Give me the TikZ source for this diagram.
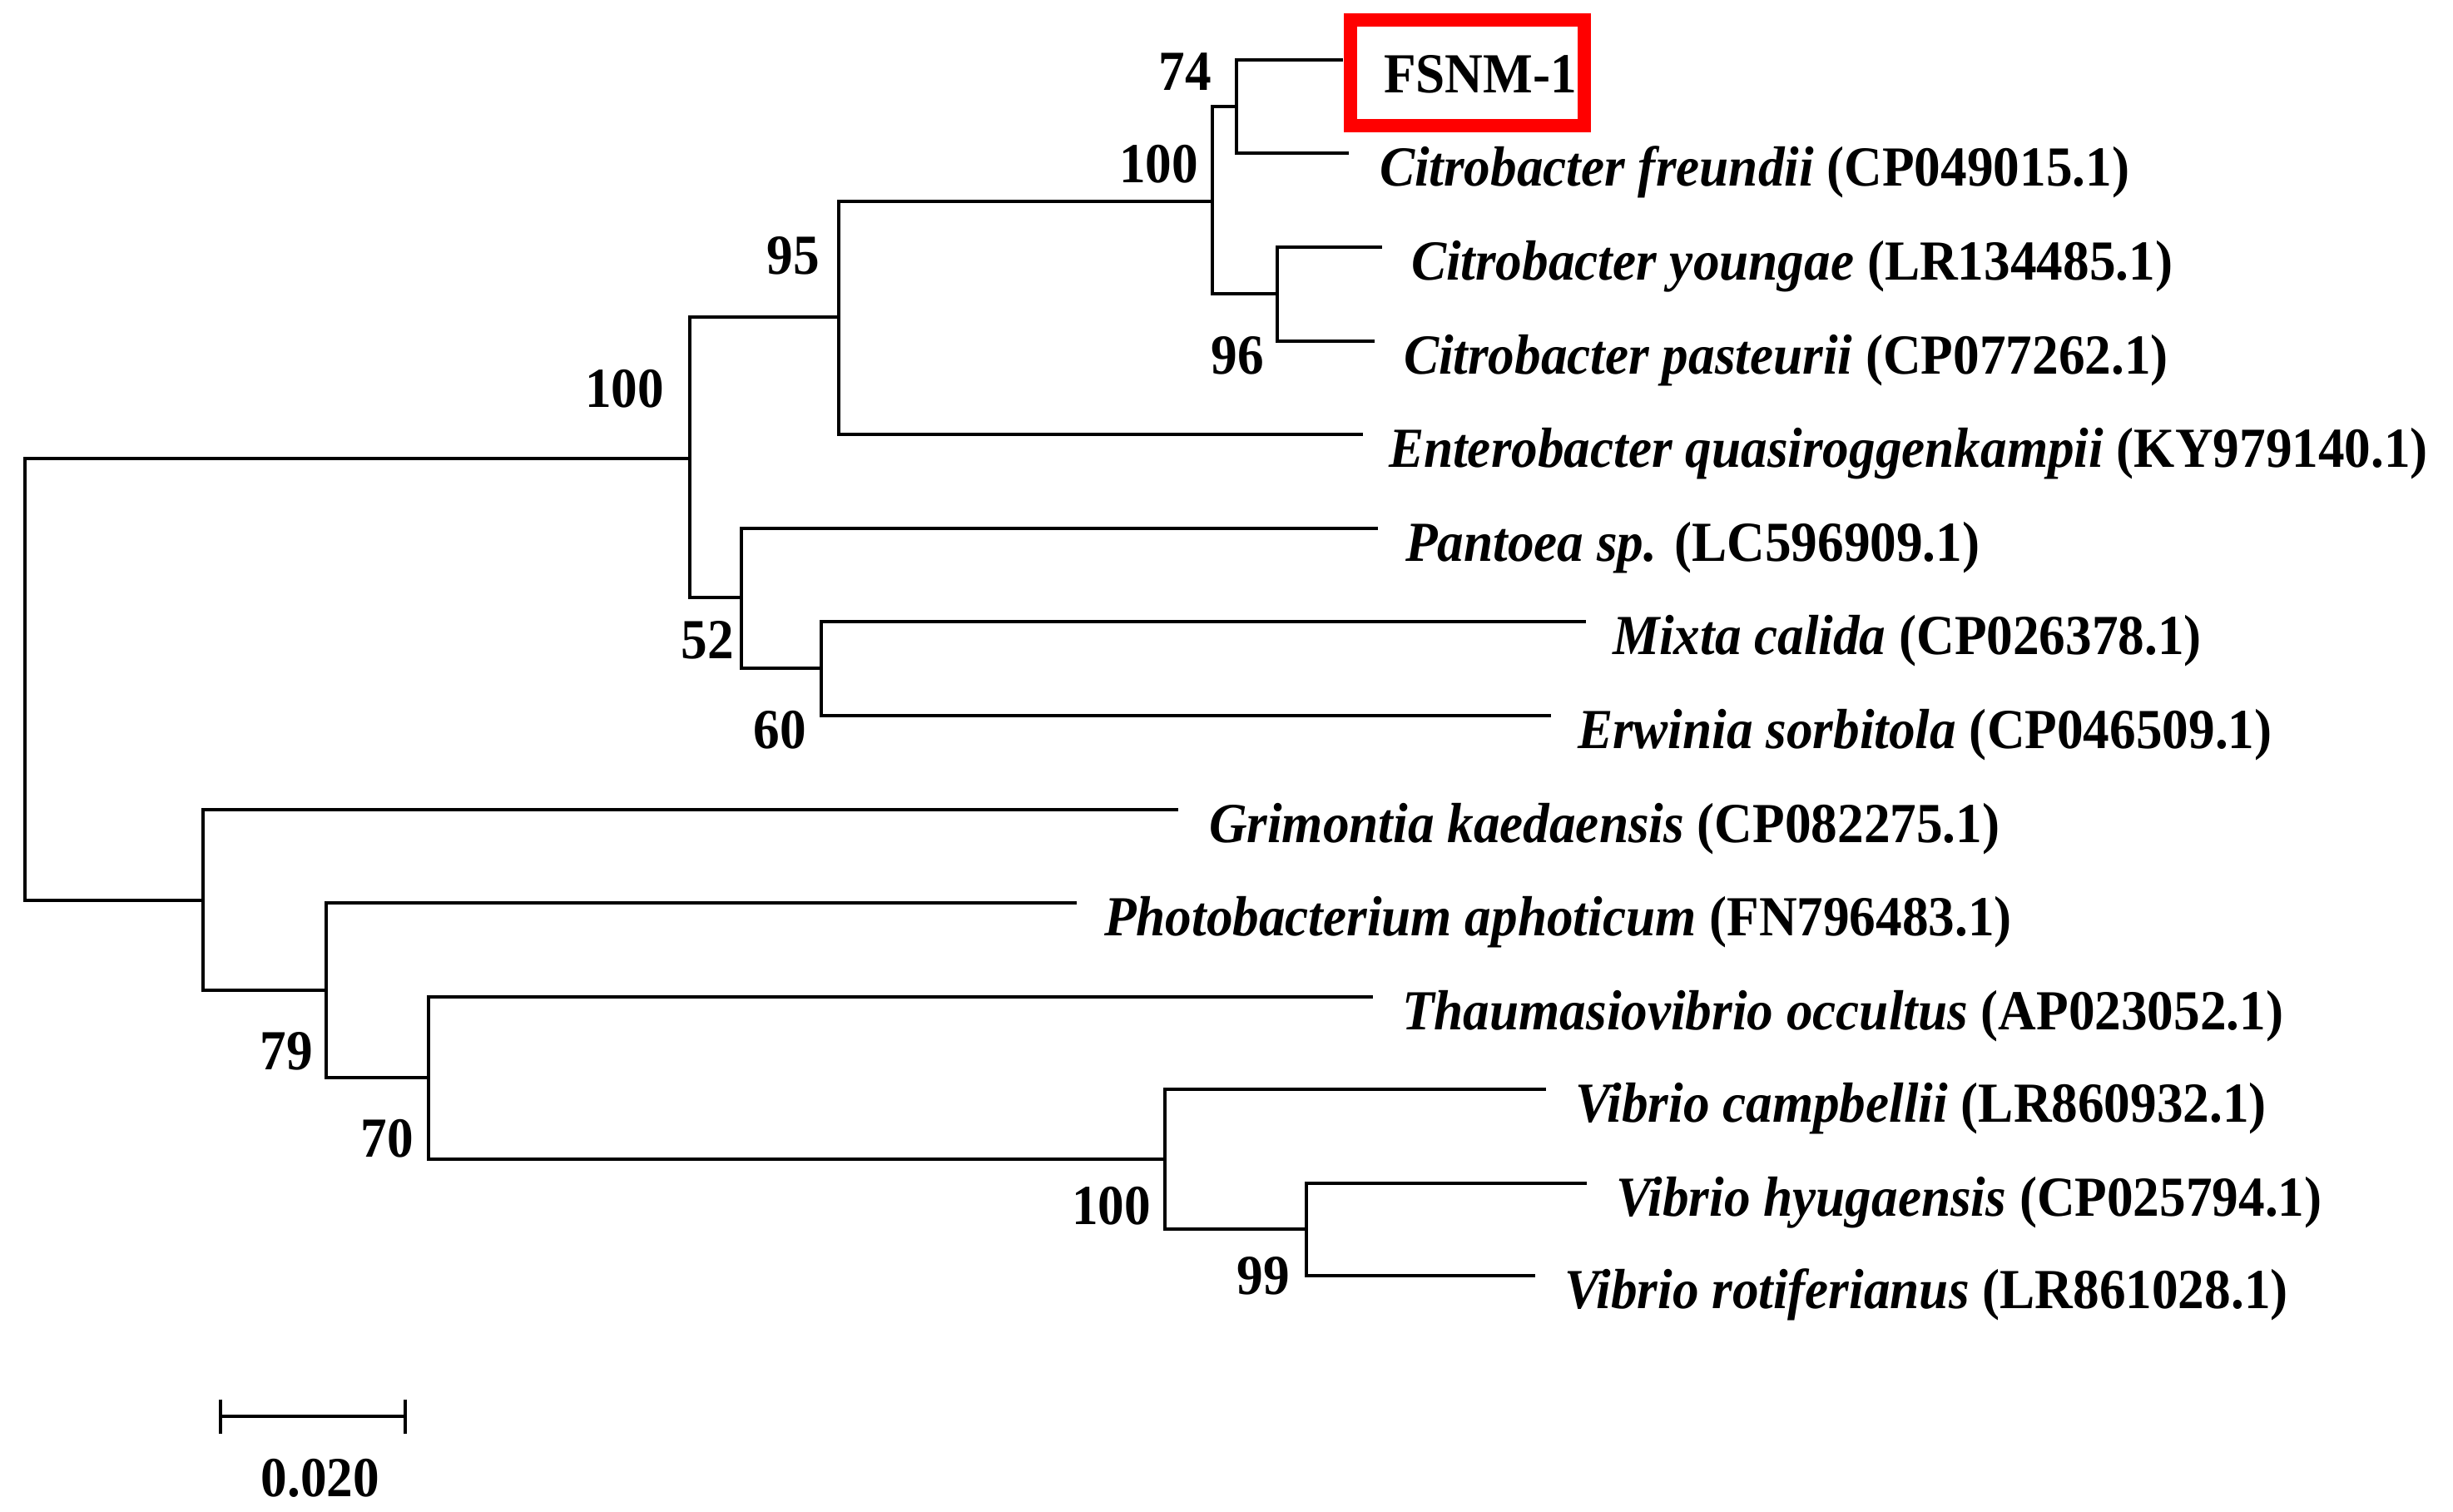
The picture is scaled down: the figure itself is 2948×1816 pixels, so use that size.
\documentclass[tikz,border=0pt]{standalone}
\usepackage{fontspec}
\setmainfont{Liberation Serif}[FakeStretch=0.93]
\begin{document}
\begin{tikzpicture}[x=0.5pt,y=-0.5pt,
  branch/.style={line width=2.25pt,black,line join=miter},
  leaflab/.style={inner sep=0pt,outer sep=0pt,anchor=base west,font=\fontsize{34pt}{40pt}\selectfont\bfseries},
  boot/.style={inner sep=0pt,outer sep=0pt,anchor=east,font=\fontsize{34pt}{40pt}\selectfont\bfseries},
  redbox/.style={draw=red,line width=8pt}]
\useasboundingbox (0,0) rectangle (2948,1816);
% internal nodes
\coordinate (root) at (30,816.5);
\coordinate (U) at (829,551);
\coordinate (N95) at (1008,381);
\coordinate (N100c) at (1457,242);
\coordinate (N74) at (1486,128);
\coordinate (N96) at (1535,353);
\coordinate (N52) at (891,718);
\coordinate (N60) at (987,803);
\coordinate (L) at (244,1082);
\coordinate (N79) at (392,1190);
\coordinate (N70) at (515,1295);
\coordinate (NV) at (1400,1393);
\coordinate (N99) at (1570,1477);
% leaves
\coordinate (fsnm) at (1614,72);
\coordinate (freu) at (1621,184);
\coordinate (youn) at (1661,297);
\coordinate (past) at (1652,410);
\coordinate (ente) at (1638,522);
\coordinate (pant) at (1656,635);
\coordinate (mixt) at (1906,747);
\coordinate (erwi) at (1864,860);
\coordinate (grim) at (1416,973);
\coordinate (phot) at (1294,1085);
\coordinate (thau) at (1650,1198);
\coordinate (camp) at (1858,1309);
\coordinate (hyug) at (1907,1422);
\coordinate (roti) at (1845,1533);
% branches
\draw[branch] (root) |- (U);
\draw[branch] (root) |- (L);
\draw[branch] (U) |- (N95);
\draw[branch] (U) |- (N52);
\draw[branch] (N95) |- (N100c);
\draw[branch] (N95) |- (ente);
\draw[branch] (N100c) |- (N74);
\draw[branch] (N100c) |- (N96);
\draw[branch] (N74) |- (fsnm);
\draw[branch] (N74) |- (freu);
\draw[branch] (N96) |- (youn);
\draw[branch] (N96) |- (past);
\draw[branch] (N52) |- (pant);
\draw[branch] (N52) |- (N60);
\draw[branch] (N60) |- (mixt);
\draw[branch] (N60) |- (erwi);
\draw[branch] (L) |- (grim);
\draw[branch] (L) |- (N79);
\draw[branch] (N79) |- (phot);
\draw[branch] (N79) |- (N70);
\draw[branch] (N70) |- (thau);
\draw[branch] (N70) |- (NV);
\draw[branch] (NV) |- (camp);
\draw[branch] (NV) |- (N99);
\draw[branch] (N99) |- (hyug);
\draw[branch] (N99) |- (roti);
% leaf labels
\node[leaflab] (tfsnm) at (1663,111) {FSNM-1};
\node[leaflab] (tfreu) at (1658,223) {\itshape Citrobacter freundii\/ \upshape(CP049015.1)};
\node[leaflab] (tyoun) at (1696,336) {\itshape Citrobacter youngae\/ \upshape(LR134485.1)};
\node[leaflab] (tpast) at (1687,449) {\itshape Citrobacter pasteurii\/ \upshape(CP077262.1)};
\node[leaflab] (tente) at (1669,561) {\itshape Enterobacter quasiroggenkampii\/ \upshape(KY979140.1)};
\node[leaflab] (tpant) at (1689,674) {\itshape Pantoea sp.\/ \upshape(LC596909.1)};
\node[leaflab] (tmixt) at (1938,786) {\itshape Mixta calida\/ \upshape(CP026378.1)};
\node[leaflab] (terwi) at (1896,899) {\itshape Erwinia sorbitola\/ \upshape(CP046509.1)};
\node[leaflab] (tgrim) at (1453,1012) {\itshape Grimontia kaedaensis\/ \upshape(CP082275.1)};
\node[leaflab] (tphot) at (1327,1124) {\itshape Photobacterium aphoticum\/ \upshape(FN796483.1)};
\node[leaflab] (tthau) at (1685,1237) {\itshape Thaumasiovibrio occultus\/ \upshape(AP023052.1)};
\node[leaflab] (tcamp) at (1893,1348) {\itshape Vibrio campbellii\/ \upshape(LR860932.1)};
\node[leaflab] (thyug) at (1942,1461) {\itshape Vibrio hyugaensis\/ \upshape(CP025794.1)};
\node[leaflab] (troti) at (1880,1572) {\itshape Vibrio rotiferianus\/ \upshape(LR861028.1)};
% red box around FSNM-1
\draw[redbox] (1623,24) rectangle (1903.5,150.5);
% bootstrap values
\node[boot] (b74) at (1456,86) {74};
\node[boot] (b100c) at (1440,197) {100};
\node[boot] (b96) at (1519,427) {96};
\node[boot] (b95) at (985,307) {95};
\node[boot] (b100u) at (798,467) {100};
\node[boot] (b52) at (882,769) {52};
\node[boot] (b60) at (969,877) {60};
\node[boot] (b79) at (376,1263) {79};
\node[boot] (b70) at (497,1368) {70};
\node[boot] (b100v) at (1383,1449) {100};
\node[boot] (b99) at (1550,1533) {99};
% scale bar
\coordinate (sbl) at (265,1702);
\coordinate (sbr) at (487,1702);
\draw[branch] (sbl) -- (sbr);
\draw[branch] ([yshift=10.25pt]sbl) -- ([yshift=-10.25pt]sbl);
\draw[branch] ([yshift=10.25pt]sbr) -- ([yshift=-10.25pt]sbr);
\node[inner sep=0pt,font=\fontsize{34pt}{40pt}\selectfont\bfseries] (scl) at (385,1776) {0.020};
\end{tikzpicture}
\end{document}
